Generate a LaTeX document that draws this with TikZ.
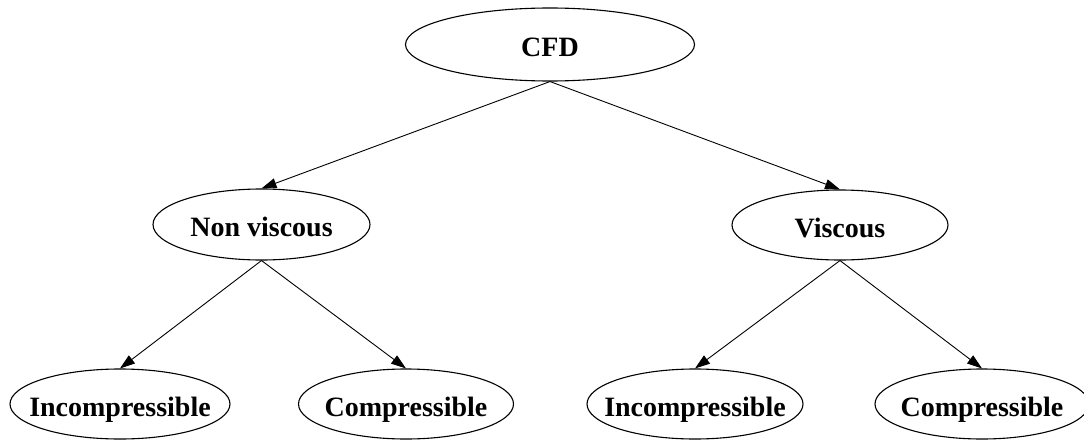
\documentclass[tikz,border=0pt]{standalone}
\usepackage{fontspec}
\setmainfont{Liberation Serif}
\usetikzlibrary{arrows.meta,shapes.geometric}
\newcommand{\lbl}[1]{\makebox[0pt]{#1}}

\begin{document}
\begin{tikzpicture}[x=1pt,y=-1pt,
    oval/.style={draw,ellipse,inner sep=0pt,line width=1.1pt,
      font=\fontsize{28}{32}\selectfont\bfseries,text height=24pt,text depth=0pt},
    edge/.style={line width=0.9pt,-{Triangle[length=15pt,width=10pt]}}]
  \useasboundingbox (0,0) rectangle (1084,439);
  \node[oval,minimum width=289pt,minimum height=73pt] (cfd) at (550,44.5){\lbl{CFD}};
  \node[oval,minimum width=217pt,minimum height=71pt] (nv) at (261.5,224.5){\lbl{Non viscous}};
  \node[oval,minimum width=216pt,minimum height=70pt] (vis) at (840,225){\lbl{Viscous}};
  \foreach \name/\x/\w/\txt in {inc1/120/220/Incompressible,com1/406/215/Compressible,
      inc2/695/216/Incompressible,com2/982/214/Compressible}{
    \node[oval,minimum width=\w pt,minimum height=70pt] (\name) at (\x,404){\lbl{\txt}};
  }
  \foreach \a/\b in {cfd/nv,cfd/vis,nv/inc1,nv/com1,vis/inc2,vis/com2}
    \draw[edge] (\a.south) -- (\b.north);
\end{tikzpicture}
\end{document}
